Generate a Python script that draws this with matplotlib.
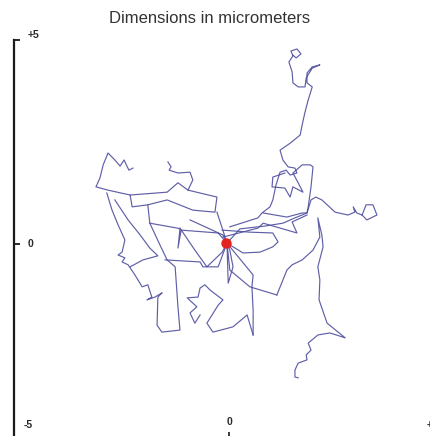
import numpy as np
import matplotlib
matplotlib.use("Agg")
import matplotlib.pyplot as plt

# ---- data (micrometers) ----
title = "Dimensions in micrometers"
y_ticks = [0, 5]
y_tick_labels = ["0", "+5"]
x_ticks = [-5, 0, 5]
x_tick_labels = ["-5", "0", "+5"]
start_x, start_y = -0.07, 0.02

t1_x = [0.02,0.72,0.82,1.02,1.09,1.17,1.27,1.42,1.52,1.69,1.64,1.47,1.34,1.27,1.52,1.77,1.82,1.89,1.97,2.07,1.94,1.94,2.07,2.26,2.07,1.92,1.89,1.72,1.59,1.57,1.49,1.59,1.54,1.69,1.79,1.67,1.59]
t1_y = [0.42,0.64,0.76,0.91,1.08,1.45,1.76,1.81,1.69,1.74,1.86,1.89,2.06,2.30,2.47,2.67,2.92,3.23,3.53,3.85,3.95,4.19,4.34,4.39,4.31,4.07,3.85,3.85,3.95,4.22,4.46,4.61,4.73,4.78,4.66,4.56,4.63]
t2_x = [1.39,1.09,1.07,1.39,1.52,1.59,1.84,1.72,1.59,1.82,2.02,2.09,2.04,1.97,1.94,1.64,1.34,0.90,0.27,-0.05]
t2_y = [1.74,1.64,1.40,1.37,1.15,1.40,1.27,1.50,1.74,1.94,1.94,1.89,1.40,0.91,0.76,0.64,0.51,0.44,0.37,0.02]
t3_x = [0.85,1.44,1.82,1.94,2.04,2.16,2.31,2.64,2.96,3.13,3.09,3.18,3.31,3.43,3.68,3.58,3.41,3.31]
t3_y = [0.76,0.66,0.76,0.76,1.08,1.15,1.08,0.78,0.71,0.78,0.91,0.76,0.71,0.59,0.71,0.96,0.96,0.71]
t4_x = [1.19,1.44,1.57,1.82,2.09,2.26,2.21,2.31,2.34,2.21,2.26,2.24,2.44,2.89,2.51,2.21,1.97,2.04,1.92,1.94,1.72,1.64,1.64,1.72]
t4_y = [-1.25,-0.64,-0.51,-0.39,-0.15,0.17,0.64,0.22,-0.07,-0.56,-0.88,-1.37,-1.94,-2.30,-2.18,-2.23,-2.43,-2.60,-2.72,-2.84,-2.92,-3.09,-3.26,-3.28]
t5_x = [-0.05,0.35,0.77,1.09,1.22,1.09,0.52,-0.17]
t5_y = [0.02,-0.22,-0.20,-0.07,0.05,0.27,0.29,0.34]
t6_x = [-0.15,0.72,0.85,1.69,1.57,1.94]
t6_y = [0.17,0.39,0.51,0.27,0.54,0.71]
t7_x = [-2.39,-2.49,-2.54,-2.61,-2.71,-2.84,-3.01,-3.13,-3.21,-3.31,-3.01,-2.46,-1.54,-1.27,-1.02]
t7_y = [1.86,1.81,1.91,2.06,1.91,2.06,2.23,1.94,1.62,1.40,1.32,1.20,1.27,1.50,1.32]
t8_x = [-1.52,-1.44,-1.49,-1.27,-0.97,-0.90,-1.02,-0.30,-0.35,-0.90,-1.54,-2.02,-2.41,-2.46]
t8_y = [2.01,1.89,1.81,1.74,1.76,1.57,1.32,1.15,0.78,0.83,1.08,0.96,0.91,1.20]
t9_x = [-3.04,-2.91,-2.76,-2.59,-2.66,-2.76,-2.59,-2.66,-2.51,-2.34,-2.16,-2.02,-1.92,-2.04,-1.84,-1.67]
t9_y = [1.25,0.83,0.47,0.10,-0.20,-0.27,-0.34,-0.44,-0.51,-0.76,-1.05,-1.00,-1.30,-1.37,-1.30,-1.20]
t10_x = [-2.84,-2.51,-2.21,-1.97,-1.77,-2.14,-2.46]
t10_y = [1.08,0.59,0.22,-0.10,-0.29,-0.39,-0.56]
t11_x = [-2.02,-1.97,-1.72,-1.54,-1.34,-1.27,-1.22,-1.67,-1.79,-1.77,-1.67]
t11_y = [0.96,0.51,-0.02,-0.39,-0.56,-1.54,-2.11,-2.16,-1.99,-1.30,-1.20]
t12_x = [-1.97,-1.29,-1.22,-1.27,-1.19,-0.27,-0.05]
t12_y = [0.51,0.39,0.37,-0.10,0.34,0.27,0.02]
t13_x = [-1.22,-0.85,-0.55,-0.17,-0.05]
t13_y = [0.39,-0.15,-0.56,-0.20,0.02]
t14_x = [-1.59,-0.72,-0.65,-0.27,-0.05]
t14_y = [-0.39,-0.44,-0.56,-0.56,0.02]
t15_x = [0.60,0.45,0.10,-0.40,-0.55,-0.27,-0.15,-0.47,-0.60,-0.72,-0.77,-1.04,-0.80,-0.97,-0.85,-0.72]
t15_y = [-2.23,-1.74,-2.03,-2.16,-1.94,-1.50,-1.37,-1.13,-1.00,-1.08,-1.30,-1.32,-1.54,-1.69,-1.94,-1.74]
t16_x = [-0.05,-0.02,0.10,0.02,-0.05,0.60,0.57,0.60,0.60]
t16_y = [0.02,-0.96,-0.56,-0.15,0.02,-0.76,-1.05,-1.62,-2.23]
t17_x = [-0.05,0.02,0.52,1.19]
t17_y = [0.02,-0.64,-1.05,-1.25]
t18_x = [-0.97,-0.15,-0.05,-0.17,-0.30]
t18_y = [0.59,0.22,0.02,0.39,0.78]

tracks = [(t1_x, t1_y), (t2_x, t2_y), (t3_x, t3_y), (t4_x, t4_y), (t5_x, t5_y),
          (t6_x, t6_y), (t7_x, t7_y), (t8_x, t8_y), (t9_x, t9_y), (t10_x, t10_y),
          (t11_x, t11_y), (t12_x, t12_y), (t13_x, t13_y), (t14_x, t14_y),
          (t15_x, t15_y), (t16_x, t16_y), (t17_x, t17_y), (t18_x, t18_y)]

# ---- figure ----
W, H = 430, 436
fig = plt.figure(figsize=(W / 100, H / 100), dpi=100)
ax = fig.add_axes([0, 0, 1, 1])
ax.set_xlim(-5.697, 5.0)
ax.set_ylim(-4.706, 5.980)

line_color = "#4e4e9e"
for tx, ty in tracks:
    ax.plot(tx, ty, color=line_color, lw=0.85, alpha=0.9, solid_joinstyle="round")
ax.plot([start_x], [start_y], "o", color="#e3231f", ms=6.5, mec="#e3231f", zorder=5)

# spines
for s in ["top", "right", "bottom"]:
    ax.spines[s].set_visible(False)
ax.spines["left"].set_position(("data", -5.35))
ax.spines["left"].set_bounds(-4.706, 5.0)
ax.spines["left"].set_linewidth(1.6)
ax.spines["left"].set_color("#1a1a1a")
ax.set_yticks(y_ticks)
ax.tick_params(axis="y", direction="in", length=4.5, width=1.3, color="#1a1a1a",
               labelleft=False)
ax.set_xticks([0])
ax.tick_params(axis="x", direction="in", length=3, width=1.2, color="#1a1a1a",
               labelbottom=False)

for v, lab in zip(y_ticks, y_tick_labels):
    ax.text(-5.02, v + (0.12 if v == 5 else 0.0), lab, ha="left", va="center",
            fontsize=7.5, fontweight="bold", color="#2a2a2a",
            family="Liberation Sans")
for v, lab in zip(x_ticks, x_tick_labels):
    ax.text(v + (0.0 if v != 5 else 0.05), -4.43 if v != 0 else -4.36, lab,
            ha="center", va="center", fontsize=7.5, fontweight="bold",
            color="#2a2a2a", family="Liberation Sans")

fig.text(0.488, 0.958, title, ha="center", va="center", fontsize=12,
         color="#333333", family="Liberation Sans")

fig.savefig("out.png", dpi=100)
